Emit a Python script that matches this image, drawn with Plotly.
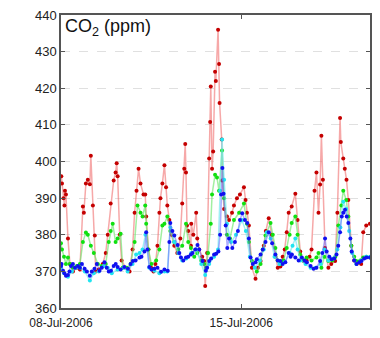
import pandas as pd
import plotly.graph_objects as go

# hours since 08-Jul-2006 00:00, CO2 (ppm)
red_h = [0.3, 0.9, 2.3, 3.2, 3.7, 4.6, 6.5, 8.3, 11.1, 14.8, 17.6, 20.4, 21.3, 23.2, 25, 26.9, 27.8, 29.7, 31.5, 32.4,
         35.2, 38.9, 41.7, 43.6, 46.3, 49.1, 50.9, 51.9, 52.8, 54.7, 56.5, 60.2, 63.9, 66.7, 68.6, 70.4, 72.3, 74.1,
         76.9, 78.5, 79.4, 81.5, 84, 86.2, 88, 89.9, 91.7, 92.7, 94.5, 96.4, 97.9, 99.1, 101, 102.9, 105.6, 108.4,
         111.2, 113, 114.9, 115.8, 116.5, 117.4, 118.6, 121.1, 121.4, 123.3, 126, 127, 128.8, 131.6, 133.4, 134.4,
         136.2, 138.1, 139, 139.6, 140.8, 141.8, 143.6, 144.3, 146.4, 147.3, 147.8, 149.8, 150.1, 152, 154.7, 156.6,
         159.4, 161.2, 164, 166.8, 170.5, 172, 173.3, 175.1, 177.9, 181.3, 183.5, 186, 189, 190.9, 193.6, 196.4,
         199.8, 202, 204.5, 206.6, 208.5, 210.4, 212.2, 215, 218.4, 220.5, 223, 226.1, 228.9, 231.7, 233.5, 236.3,
         238.1, 240, 241.5, 242.7, 244.1, 246.1, 249.2, 251.9, 255.5, 257.6, 260.1, 260.8, 263.1, 264.5, 266.1,
         267.8, 270.6, 273.3, 275.5, 279.8, 281.7, 284.5, 287.9]
red_v = [396, 394, 390, 388, 392, 391, 379, 372, 370, 371, 370.5, 387.7, 386, 394, 395, 393.8, 401.6, 388, 379.8, 370,
         370.5, 372, 375, 380, 388.5, 394.8, 397, 399.5, 396, 380, 373, 371, 370, 376, 386, 392, 398, 394,
         391, 391, 385, 376, 371, 370, 372, 377, 386, 390, 394, 399, 393, 388, 384, 380, 377, 375,
         379, 388.5, 398, 404.8, 397, 382.5, 381, 377, 383, 380, 386, 379, 376, 374, 372.8, 366,
         375, 400.8, 410.8, 420.5, 398, 402.7, 424.5, 422, 436, 426.6, 416, 406, 394.8, 387, 385, 384,
         386, 388, 390, 391, 393, 389.5, 386, 382.5, 371, 368, 371, 372.8, 377, 381, 384.5, 380,
         374, 371, 371.3, 374, 376, 380.7, 386, 387.7, 391.2, 384, 375.4, 372.8, 373, 374, 376, 392,
         397, 386, 393.7, 407, 395, 376.4, 371, 372, 372.8, 386, 411.9, 405.3, 400.8, 398, 395,
         389.5, 377, 373, 372, 372, 380.7, 382.5, 383]

green_h = [0, 0.9, 2.8, 4.6, 6.5, 8.3, 11.1, 14.8, 17.6, 20.4, 23.2, 25, 27.8, 30.6, 34.3, 38, 41.7, 44.5, 46.3, 48.2,
           50.9, 52.8, 55.6, 57.5, 61.2, 64.9, 68.6, 71.3, 74.1, 76, 78.5, 79.4, 81.5, 84.3, 88.7, 91.7, 94.5, 96.4,
           99.1, 101.9, 105.6, 109.3, 113, 116.5, 118.6, 121.1, 124.2, 127, 130.7, 133.4, 135.3, 137.1, 139.6, 140.8,
           143.6, 145.4, 147.3, 150.1, 152, 154.7, 157.5, 161.2, 166, 170.5, 173.3, 175.1, 177.9, 182.5, 186, 188.1,
           190.6, 195.3, 197.4, 199.8, 202, 204.5, 207.5, 210.4, 213.1, 215, 218.4, 220.5, 223, 226.1, 228.9, 233.5,
           238.1, 240, 242.7, 245.5, 249.2, 252.9, 255.7, 258.5, 261.3, 263.1, 265.8, 267.8, 270.6, 273.3, 275.2,
           278.9, 281.7, 284.5, 288]
green_v = [377.7, 376, 374, 372, 373.8, 372, 371, 371.5, 372, 378, 380.6, 380, 377, 375, 372, 371.5, 372, 378, 381, 383,
           378, 379, 380.3, 371, 371, 372, 378, 388, 386, 385, 388, 383, 376, 372, 373, 376, 382.5, 383,
           385, 381, 378, 376, 377, 383, 378, 376.4, 374, 375, 373, 372, 371, 375, 383, 391,
           396.4, 395.6, 392, 403, 390, 380, 379, 384, 386, 388.5, 383, 378, 372.8, 370, 372, 376,
           379.8, 383.2, 380, 376.4, 373, 372, 373, 376.4, 380, 383.2, 385, 380, 374.6, 373, 373.8, 373,
           373.8, 375, 371, 374, 372.8, 373, 374, 382.5, 388, 392, 389.5, 385, 377, 374, 372.8,
           373, 373.8, 374, 373.8]

cyan_h = [0, 2.8, 6.5, 10.2, 13.9, 17.6, 22.2, 26.9, 30.6, 35.2, 39.8, 43.6, 47.3, 52.8, 58.4, 62.1, 66.7, 70, 73.2,
          76, 78.7, 82.3, 87, 91.7, 96.4, 99.1, 101.9, 105.6, 109.3, 113, 116.8, 121.4, 126, 130.7, 134.4, 138.1,
          142.7, 146.4, 148.3, 150.1, 152, 154.7, 158.5, 163.1, 168.6, 172.3, 176, 180.6, 185.3, 189, 191.7, 195.4,
          199, 203.6, 208.5, 213.1, 215.8, 218.4, 220.5, 223.2, 227.9, 232.6, 237.2, 242.1, 245.5, 249.2, 253.9,
          257.6, 260.4, 263.1, 265.8, 268.6, 271.4, 275.2, 279.8, 284.5, 288]
cyan_v = [371, 369.5, 368.5, 370, 371, 371, 370, 367.5, 369.5, 370, 371.5, 371, 369.5, 370.5, 371, 370, 372, 374.6, 375,
          376, 380, 371, 370.2, 369.5, 370, 370, 382, 378, 375, 373, 373.5, 375, 376, 372, 369, 372,
          374, 376, 392, 406, 395, 383, 378, 380, 384, 381, 374, 371, 373, 376, 380.7, 379,
          374, 372, 372.5, 375, 377, 379, 376, 373, 372, 371, 371, 372, 376, 373, 373.5,
          376, 382, 389, 387, 381, 375, 372, 373, 374, 374]

blue_h = [0, 0.5, 1.9, 3.2, 4.6, 6.5, 7.9, 9.3, 11.1, 13, 15.8, 17.6, 19.5, 22, 24.1, 26.9, 28.7, 31.2, 33.4, 35.9,
          38, 40.5, 42.6, 44.5, 46.6, 49.1, 51, 52.8, 55.6, 59, 62.4, 64.9, 67, 69.5, 73.2, 75, 77.8, 79.4, 80.6,
          82.3, 84.3, 87, 89.9, 93.3, 96.4, 99.5, 101, 101.9, 103.8, 105.6, 108.7, 110.3, 111.8, 114, 116.5, 118.6,
          121.1, 122.6, 125.1, 127.2, 128.8, 131.9, 135, 136.2, 138.1, 139.9, 142.7, 144.6, 146.7, 148.3, 149.2,
          150.4, 151.5, 153.5, 155, 156.6, 159.7, 162.1, 164.9, 166.8, 168.9, 171.4, 173.6, 175.1, 176.7, 178.8,
          181.3, 182.5, 186, 188.1, 190.6, 193.6, 196.8, 199.8, 202, 204.5, 206.6, 209.1, 212.2, 214, 215.2, 218.4,
          221.5, 224.5, 227, 229.1, 232.6, 235.4, 238.1, 241.5, 243.6, 246.1, 247.6, 250.1, 252.2, 254.7, 256.8,
          258.4, 260.1, 261.7, 263.1, 264.7, 266.3, 267.8, 269.7, 270.9, 273.3, 275.5, 278, 280.1, 282.6, 284.7, 287.9]
blue_v = [371.5, 372, 370.2, 369.5, 368.8, 369, 370, 371.5, 372, 371, 371.5, 371, 372, 370.7, 370, 368.8, 370, 370.7, 372, 370.2,
          371, 372.5, 371, 370, 370.2, 371.5, 372, 371.2, 370.5, 371.2, 370.7, 372, 372.8, 373, 373.8, 374, 375.4, 380.7, 376,
          371.2, 370.5, 370.7, 371, 369.9, 370.5, 370.2, 378, 383.2, 381, 379.8, 377.2, 375, 373.8, 373, 373.8, 374,
          374.6, 375, 376, 377.2, 376, 372.8, 370.2, 371, 372.8, 373.5, 374.6, 374.8, 375.4, 380, 391,
          398.2, 391.2, 382.5, 376.4, 379, 376.4, 378, 381, 384, 385.9, 384, 383.2, 379, 373.8, 372,
          372.5, 373.3, 374.6, 376, 378, 380.7, 377.7, 374.6, 373, 372.8, 372, 372.5, 375, 374, 374.6, 373.8,
          373, 373.8, 373, 372.5, 371.5, 370.7, 371, 372.8, 375, 379, 375.4, 374, 373.3, 373.5, 374.6,
          377, 380.7, 385, 386, 386.8, 385, 383.2, 379, 375.4, 373, 372, 372.5, 372.8, 373.5, 373.8, 373.8]

y_ticks = [360, 370, 380, 390, 400, 410, 420, 430, 440]
x_tick_dates = ["2006-07-08", "2006-07-15"]
x_tick_text = ["08-Jul-2006", "15-Jul-2006"]
x_range = ["2006-07-08", "2006-07-20"]

start = pd.Timestamp("2006-07-08")


def to_time(hours):
    return [start + pd.Timedelta(hours=h) for h in hours]


series = [
    ("red", red_h, red_v, "rgba(240,110,110,0.6)", "#c40000"),
    ("green", green_h, green_v, "rgba(110,230,110,0.65)", "#10e010"),
    ("cyan", cyan_h, cyan_v, "rgba(110,230,240,0.65)", "#20e4f0"),
    ("blue", blue_h, blue_v, "rgba(90,90,255,0.5)", "#1010f0"),
]

fig = go.Figure()
for name, h, v, lc, mc in series:
    fig.add_trace(go.Scatter(
        x=to_time(h), y=v, mode="lines+markers", name=name,
        line=dict(color=lc, width=1.5),
        marker=dict(color=mc, size=4),
        showlegend=False,
    ))

fig.add_annotation(
    text="CO<sub>2</sub> (ppm)", xref="paper", yref="paper", x=0.005, y=1.005,
    xanchor="left", yanchor="top", showarrow=False,
    font=dict(family="Liberation Sans, Arial", size=18, color="#111"),
)

fig.update_layout(
    width=380, height=338,
    margin=dict(l=61, r=8, t=10, b=22),
    paper_bgcolor="white", plot_bgcolor="white",
    font=dict(family="Liberation Sans, Arial", size=12, color="#222"),
    xaxis=dict(
        type="date", range=x_range,
        tickvals=x_tick_dates, ticktext=x_tick_text,
        ticks="inside", ticklen=4, tickcolor="#555",
        tickfont=dict(size=12), ticklabelstandoff=3,
        showgrid=False, zeroline=False,
        showline=True, linecolor="#555", linewidth=1.5, mirror="ticks",
    ),
    yaxis=dict(
        range=[360, 440], tickvals=y_ticks,
        ticks="inside", ticklen=4, tickcolor="#555",
        tickfont=dict(size=13),
        showgrid=True, gridcolor="#e0e0e0", griddash="dash", gridwidth=1,
        zeroline=False,
        showline=True, linecolor="#555", linewidth=1.5, mirror="ticks",
    ),
)

fig.write_html("out.html")
